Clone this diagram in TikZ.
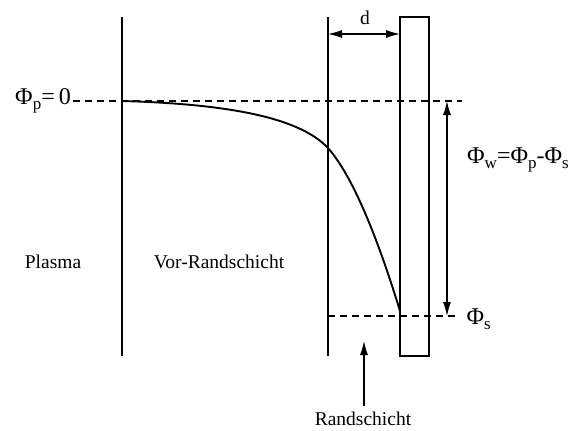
\documentclass[tikz,border=0pt]{standalone}
\usepackage{fontspec}
\setmainfont{Liberation Serif}
\usetikzlibrary{arrows.meta}

% lowered subscript in text
\newcommand{\lowsub}[1]{\raisebox{-0.5ex}{\fontsize{17}{17}\selectfont #1}}

\begin{document}
\begin{tikzpicture}[x=1pt, y=-1pt, >={Latex[length=14pt,width=8pt]},
  every node/.style={font=\fontsize{19.5}{22}\selectfont},
  potlabel/.style={font=\fontsize{24}{26}\selectfont},
  wall/.style={line width=1.4pt},
  level/.style={line width=1.1pt, dash pattern=on 7pt off 5pt}]

\useasboundingbox (0,0) rectangle (584,431);

% Parameters
\def\xa{122}
\def\xb{328}
\def\ytop{17}
\def\ybot{356}
\def\yp{101}
\def\ys{316}

% Boundaries between regions
\draw[wall] (\xa,\ytop) -- (\xa,\ybot);
\draw[wall] (\xb,\ytop) -- (\xb,\ybot);

% Wall
\draw[wall] (400,\ytop) rectangle (429,\ybot);

% Potential levels
\coordinate (pstart) at (73,\yp);
\draw[level] (pstart) -- (462,\yp);
\draw[level] (\xb,\ys) -- (459,\ys);

\node[potlabel, anchor=east, inner sep=2pt] (phip) at (pstart) {Φ\lowsub{p}=\,0};
\node[potlabel, anchor=west] (phis) at (463,319) {Φ\lowsub{s}};
\node[potlabel, anchor=west, inner sep=1pt] (phiw) at (466,160) {Φ\lowsub{w}=Φ\lowsub{p}-Φ\lowsub{s}};

% Potential curve
\draw[line width=1.9pt]
(\xa,\yp)
.. controls (230,104) and (300,118)
.. (\xb,148)
.. controls (358,182) and (385,262)
.. (400,311);

% Sheath width
\coordinate (da) at (\xb,34);
\coordinate (db) at (400,34);
\draw[<->, line width=1.1pt] (da) -- (db);
\node (d) at (365,18) {d};

% Wall potential
\coordinate (wa) at (447,\yp);
\coordinate (wb) at (447,\ys);
\draw[<->, line width=1.1pt] (wa) -- (wb);

% Region labels
\node (plasma) at (53,262) {Plasma};
\node (vor) at (219,262) {Vor-Randschicht};
\node (rand) at (363,419) {Randschicht};
\coordinate (rtip) at (364,341);
\draw[->, line width=1.1pt] (rand.north) ++(1,-3) -- (rtip);

\end{tikzpicture}
\end{document}
